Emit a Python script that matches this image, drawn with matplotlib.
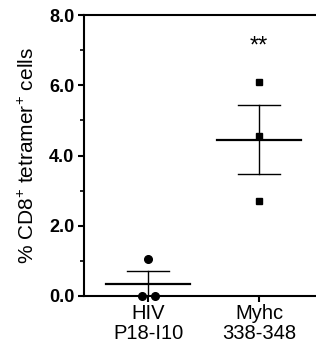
import matplotlib
matplotlib.use('Agg')
import matplotlib.pyplot as plt
import numpy as np

plt.rcParams['font.family'] = ['Liberation Sans', 'DejaVu Sans']
plt.rcParams['mathtext.fontset'] = 'custom'
plt.rcParams['mathtext.rm'] = 'Liberation Sans'
plt.rcParams['mathtext.default'] = 'regular'

groups = ['HIV\nP18-I10', 'Myhc\n338-348']
hiv_vals = [1.05, 0.0, 0.0]
hiv_offsets = [0.0, -0.055, 0.065]
myhc_vals = [6.1, 4.55, 2.7]
myhc_offsets = [0.0, 0.0, 0.0]

fig = plt.figure(figsize=(3.16, 3.48), dpi=100)
ax = fig.add_axes([84 / 316, 1 - 296 / 348, 1 - 84 / 316, (296 - 15) / 348])

for i, (vals, offs, mk) in enumerate([(hiv_vals, hiv_offsets, 'o'), (myhc_vals, myhc_offsets, 's')]):
    vals = np.array(vals)
    mean = vals.mean()
    sem = vals.std(ddof=1) / np.sqrt(len(vals))
    ax.plot(i + np.array(offs), vals, mk, color='black',
            markersize=5.5 if mk == 'o' else 5, clip_on=False, zorder=3)
    ax.plot([i - 0.38, i + 0.38], [mean, mean], color='black', lw=1.6)
    ax.plot([i, i], [mean - sem, mean + sem], color='black', lw=1)
    ax.plot([i - 0.19, i + 0.19], [mean + sem, mean + sem], color='black', lw=1)
    if mean - sem > 0:
        ax.plot([i - 0.19, i + 0.19], [mean - sem, mean - sem], color='black', lw=1)

ax.text(1, 7.1, '**', ha='center', va='center', fontsize=17)

ax.set_xlim(-0.577, 1.514)
ax.set_ylim(0, 8)
ax.set_xticks([0, 1])
ax.set_xticklabels(groups, fontsize=14.5, linespacing=1.05)
ax.set_yticks([0, 2, 4, 6, 8])
ax.set_yticklabels(['0.0', '2.0', '4.0', '6.0', '8.0'], fontsize=13, fontweight='bold')
ax.set_yticks([1, 3, 5, 7], minor=True)
ax.tick_params(axis='both', which='major', length=4, width=1.5, direction='out')
ax.tick_params(axis='y', which='minor', length=3, width=1.2)
ax.tick_params(axis='x', pad=2)
ax.tick_params(axis='y', pad=3)
ax.set_ylabel('% CD8$^{+}$ tetramer$^{+}$ cells', fontsize=15, labelpad=8)

for s in ['left', 'bottom', 'top']:
    ax.spines[s].set_linewidth(1.5)
ax.spines['right'].set_visible(False)

fig.savefig('out.png', dpi=100)
